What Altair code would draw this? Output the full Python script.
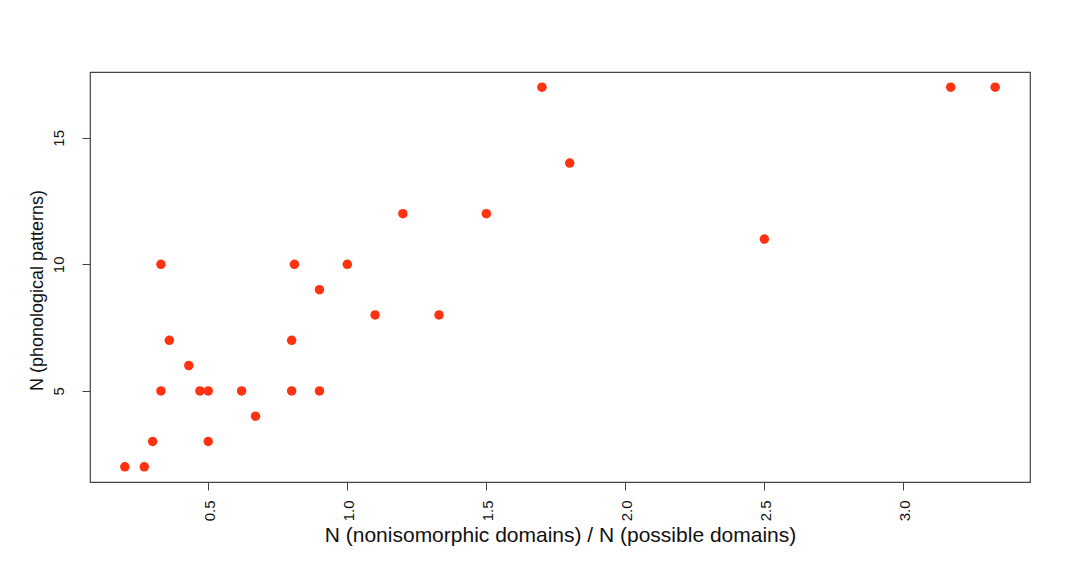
import altair as alt
import pandas as pd

ratio = [0.2, 0.27, 0.3, 0.33, 0.33, 0.36, 0.43, 0.47, 0.5, 0.5, 0.62, 0.67,
         0.8, 0.8, 0.81, 0.9, 0.9, 1.0, 1.1, 1.2, 1.33, 1.5, 1.7, 1.8, 2.5,
         3.17, 3.33]
patterns = [2, 2, 3, 10, 5, 7, 6, 5, 5, 3, 5, 4, 7, 5, 10, 9, 5, 10, 8, 12,
            8, 12, 17, 14, 11, 17, 17]
x_ticks = [0.5, 1.0, 1.5, 2.0, 2.5, 3.0]
y_ticks = [5, 10, 15]

df = pd.DataFrame({"ratio": ratio, "patterns": patterns})


def r_range(v):
    lo, hi = min(v), max(v)
    pad = (hi - lo) * 0.04
    return [lo - pad, hi + pad]


FONT = "Liberation Sans"
INK = "#444444"

chart = (
    alt.Chart(df)
    .mark_circle(size=90, color="#ff3311", opacity=1)
    .encode(
        x=alt.X(
            "ratio:Q",
            scale=alt.Scale(domain=r_range(ratio), nice=False, zero=False),
            axis=alt.Axis(
                title="N (nonisomorphic domains) / N (possible domains)",
                values=x_ticks,
                format=".1f",
                grid=False,
                domain=False,
                tickSize=8,
                tickColor=INK,
                labelAngle=270,
                labelAlign="right",
                labelBaseline="alphabetic",
                labelOffset=6,
                labelPadding=10,
                labelFontSize=15,
                labelFont=FONT,
                labelColor="#111111",
                titleFont=FONT,
                titleFontSize=21,
                titleFontWeight="normal",
                titleColor="#111111",
                titleBaseline="alphabetic",
                titleY=59,
            ),
        ),
        y=alt.Y(
            "patterns:Q",
            scale=alt.Scale(domain=r_range(patterns), nice=False, zero=False),
            axis=alt.Axis(
                title="N (phonological patterns)",
                values=y_ticks,
                format="d",
                grid=False,
                domain=False,
                tickSize=8,
                tickColor=INK,
                labelAngle=270,
                labelAlign="center",
                labelBaseline="alphabetic",
                labelPadding=19,
                labelFontSize=15,
                labelFont=FONT,
                labelColor="#111111",
                titleFont=FONT,
                titleFontSize=18,
                titleFontWeight="normal",
                titleColor="#111111",
                titleAngle=270,
                titleAlign="center",
                titleBaseline="alphabetic",
                titleX=-48,
                titleY=218,
            ),
        ),
    )
    .properties(
        width=940,
        height=410,
        autosize=alt.AutoSizeParams(type="none"),
        padding={"left": 82, "top": 64, "right": 42, "bottom": 70},
    )
    .configure_view(stroke=INK, strokeWidth=1.2)
)

chart.save("out.html", embed_options={"renderer": "svg", "actions": False})
